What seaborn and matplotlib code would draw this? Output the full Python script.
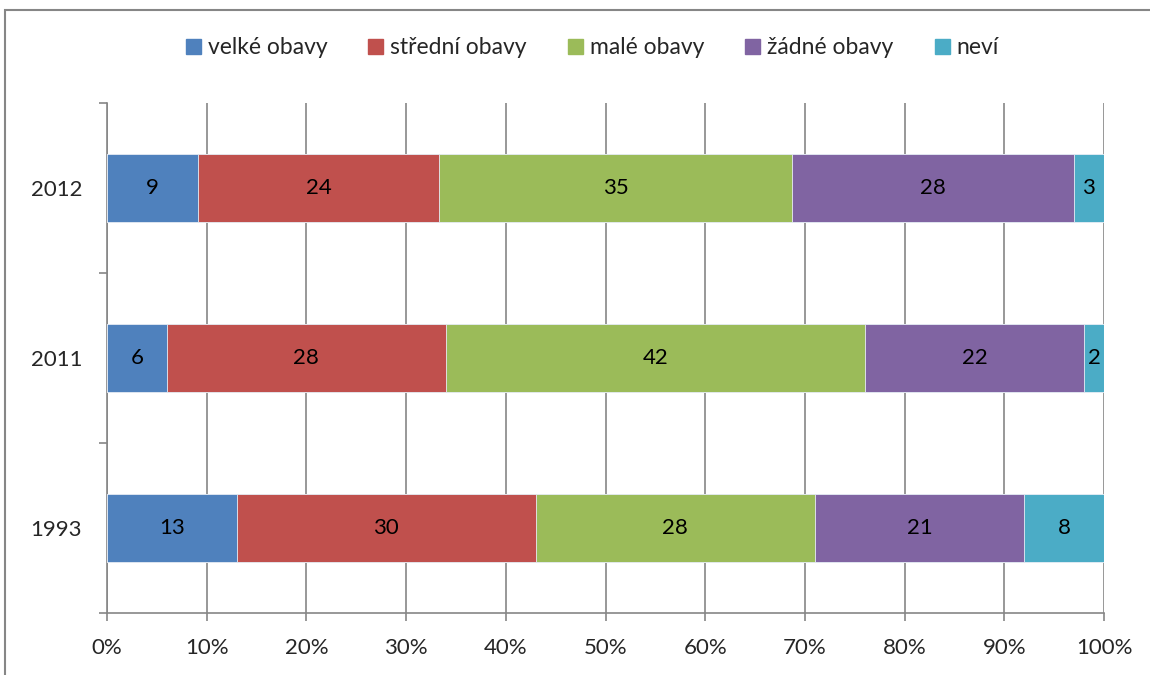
import matplotlib
matplotlib.use("Agg")
import matplotlib.pyplot as plt
import seaborn as sns
import pandas as pd
import numpy as np
from matplotlib.patches import Rectangle, Patch

years = ["2012", "2011", "1993"]
series = ["velké obavy", "střední obavy", "malé obavy", "žádné obavy", "neví"]
values = {
    "velké obavy":   [9, 6, 13],
    "střední obavy": [24, 28, 30],
    "malé obavy":    [35, 42, 28],
    "žádné obavy":   [28, 22, 21],
    "neví":          [3, 2, 8],
}
colors = ["#4F81BD", "#C0504D", "#9BBB59", "#8064A2", "#4BACC6"]
xticklabels = ["0%", "10%", "20%", "30%", "40%", "50%", "60%", "70%", "80%", "90%", "100%"]

sns.set_theme(style="white")
plt.rcParams["font.family"] = ["Lato", "DejaVu Sans"]

FS = 16

raw = np.array([values[s] for s in series], dtype=float)  # series x years
totals = raw.sum(axis=0)
pct = raw / totals * 100
cum = np.cumsum(pct, axis=0)

fig = plt.figure(figsize=(11.5, 6.75), dpi=100)
ax = fig.add_axes([107/1150, 1-613/675, (1104-107)/1150, (613-103)/675])

# draw cumulative bars, largest first
for i in range(len(series)-1, -1, -1):
    df = pd.DataFrame({"year": years, "val": cum[i]})
    sns.barplot(data=df, y="year", x="val", order=years, orient="h",
                color=colors[i], width=0.4, ax=ax, saturation=1,
                edgecolor="#e8eef6", linewidth=0.6, zorder=3)

# labels
for j, yr in enumerate(years):
    for i in range(len(series)):
        start = cum[i, j] - pct[i, j]
        center = start + pct[i, j] / 2
        ax.text(center, j, f"{int(raw[i, j])}", ha="center", va="center",
                fontsize=FS, color="black", zorder=5)

ax.set_xlim(0, 100)
ax.set_ylim(2.5, -0.5)
ax.set_xticks(np.arange(0, 101, 10))
ax.set_xticklabels(xticklabels, fontsize=FS)
ax.set_xlabel("")
ax.set_ylabel("")
ax.tick_params(axis="x", direction="out", length=6, width=1.2, color="#868686",
               bottom=True, pad=12)
ax.set_yticks(range(3))
ax.set_yticklabels(years, fontsize=FS)
ax.tick_params(axis="y", length=0, pad=18)
ax.set_yticks([-0.5, 0.5, 1.5, 2.5], minor=True)
ax.tick_params(axis="y", which="minor", direction="out", length=6, width=1.2,
               color="#868686", left=True)
ax.xaxis.grid(True, color="#868686", linewidth=1.2, zorder=0)
ax.set_axisbelow(True)
for side in ["top", "right"]:
    ax.spines[side].set_visible(False)
for side in ["left", "bottom"]:
    ax.spines[side].set_color("#868686")
    ax.spines[side].set_linewidth(1.2)

handles = [Patch(facecolor=c, edgecolor=c) for c in colors]
fig.legend(handles, series, loc="center", bbox_to_anchor=(0.515, 1-48/675),
           ncol=5, frameon=False, fontsize=16.5, handlelength=0.65, handleheight=0.65,
           handletextpad=0.3, columnspacing=1.8)

# chart border (partially cropped)
fig.patches.append(Rectangle((5/1150, -0.05), 1.2, 1-10/675+0.05, transform=fig.transFigure,
                             fill=False, edgecolor="#868686", linewidth=1.5))

fig.savefig("out.png", dpi=100)
